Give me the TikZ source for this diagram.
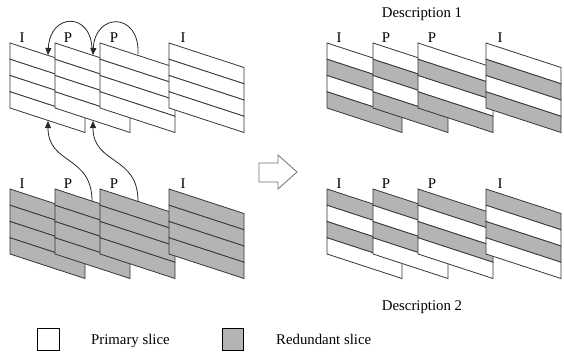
\documentclass[tikz,border=0pt]{standalone}
\usepackage{fontspec}
\setmainfont{Liberation Serif}
\usetikzlibrary{arrows.meta}
\definecolor{edgec}{RGB}{55,55,55}
\definecolor{slicegray}{RGB}{180,180,180}
\definecolor{arrc}{RGB}{40,40,40}
\newcommand{\vidframe}[4]{%
  \begin{scope}[shift={(#1,#2)}]
    \foreach \fc [count=\k from 0] in {#4} {
      \filldraw[fill=\fc, draw=edgec, line width=0.8pt]
        (0,{\k*16.25}) -- (75,{\k*16.25+24.5}) -- (75,{(\k+1)*16.25+24.5}) -- (0,{(\k+1)*16.25}) -- cycle;
    }
    \coordinate (#3) at (0,0);
  \end{scope}}
\tikzset{
  lab/.style={anchor=base, inner sep=0pt, font=\fontsize{14.8pt}{17pt}\selectfont},
  txt/.style={anchor=base west, inner sep=0pt, font=\fontsize{14.8pt}{17pt}\selectfont},
  ref/.style={draw=arrc, line width=0.8pt, -{Triangle[length=7pt,width=6pt]}},
  legbox/.style={draw=black, line width=0.8pt}
}
\begin{document}
\begin{tikzpicture}[x=1pt,y=-1pt]
\useasboundingbox (0,0) rectangle (564,351);
% top-left group (primary)
\vidframe{10}{43}{tl1}{white,white,white,white}
\vidframe{55}{43}{tl2}{white,white,white,white}
\vidframe{100}{43}{tl3}{white,white,white,white}
\vidframe{169}{43}{tl4}{white,white,white,white}
% bottom-left group (redundant)
\vidframe{10}{189}{bl1}{slicegray,slicegray,slicegray,slicegray}
\vidframe{55}{189}{bl2}{slicegray,slicegray,slicegray,slicegray}
\vidframe{100}{189}{bl3}{slicegray,slicegray,slicegray,slicegray}
\vidframe{169}{189}{bl4}{slicegray,slicegray,slicegray,slicegray}
% description 1
\vidframe{327}{43}{tr1}{white,slicegray,white,slicegray}
\vidframe{373}{43}{tr2}{white,slicegray,white,slicegray}
\vidframe{418}{43}{tr3}{white,slicegray,white,slicegray}
\vidframe{486}{43}{tr4}{white,slicegray,white,slicegray}
% description 2
\vidframe{327}{189}{br1}{slicegray,white,slicegray,white}
\vidframe{373}{189}{br2}{slicegray,white,slicegray,white}
\vidframe{418}{189}{br3}{slicegray,white,slicegray,white}
\vidframe{486}{189}{br4}{slicegray,white,slicegray,white}
% frame labels
\foreach \g/\yy in {tl/42, bl/188, tr/42, br/188}{
  \node[lab] (\g-L1) at ([xshift=12pt]\g1 |- 0,\yy) {I};
  \node[lab] (\g-L2) at ([xshift=13pt]\g2 |- 0,\yy) {P};
  \node[lab] (\g-L3) at ([xshift=14pt]\g3 |- 0,\yy) {P};
  \node[lab] (\g-L4) at ([xshift=14pt]\g4 |- 0,\yy) {I};
}
\node[lab] (d1) at (422,17.5) {Description 1};
\node[lab] (d2) at (422,310) {Description 2};
% reference arrows
\coordinate (aS) at (92,50);  \coordinate (aE) at (48,55);
\coordinate (bS) at (138,54); \coordinate (bE) at (93,55);
\coordinate (cS) at (92,201); \coordinate (cE) at (48,121);
\coordinate (dS) at (138,201); \coordinate (dE) at (93,121);
\draw[ref] (aS) .. controls (92,12) and (50,12) .. (aE);
\draw[ref] (bS) .. controls (140,12) and (95,12) .. (bE);
\draw[ref] (cS) .. controls (92,155) and (48,165) .. (cE);
\draw[ref] (dS) .. controls (138,155) and (93,165) .. (dE);
% block arrow
\draw[draw=gray!90!black, line width=0.8pt, fill=white]
  (259,163) -- (278,163) -- (278,155) -- (297,172) -- (278,189) -- (278,182) -- (259,182) -- cycle;
% legend
\node[legbox, fill=white, minimum width=22pt, minimum height=22pt, inner sep=0pt] (lp) at (48,339) {};
\node[txt] (lpt) at (91,344) {Primary slice};
\node[legbox, fill=slicegray, minimum width=21pt, minimum height=22pt, inner sep=0pt] (lr) at (232.5,339) {};
\node[txt] (lrt) at (276,344) {Redundant slice};
\end{tikzpicture}
\end{document}
